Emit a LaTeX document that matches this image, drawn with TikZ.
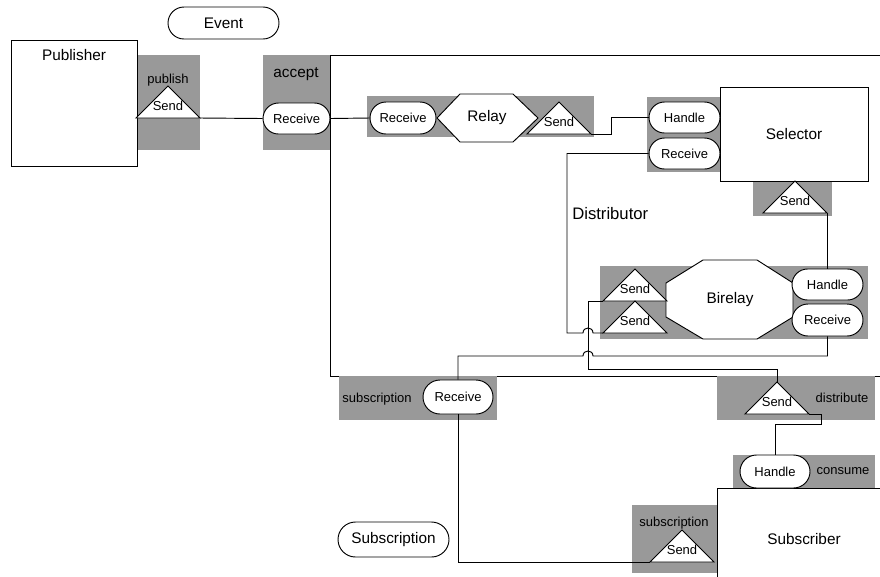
\documentclass[tikz,border=0pt]{standalone}
\usepackage{fontspec}
\setmainfont{Liberation Sans}
\usetikzlibrary{shapes.misc}
\definecolor{boxgray}{RGB}{153,153,153}
\begin{document}
\begin{tikzpicture}[x=0.75pt,y=-0.75pt,
  ln/.style={line width=0.7pt, draw=black},
  graybox/.style={fill=boxgray, draw=none},
  bigtxt/.style={inner sep=0pt, font=\fontsize{11.5}{13}\selectfont},
  smalltxt/.style={inner sep=0pt, font=\fontsize{9.75}{11}\selectfont},
  disttxt/.style={inner sep=0pt, font=\fontsize{12.5}{14}\selectfont},
  pw/.style={minimum width=#1*0.75pt},
  ph/.style={minimum height=#1*0.75pt},
  pill/.style={rounded rectangle, draw, line width=0.7pt, fill=white, inner sep=0pt},
  boxnode/.style={rectangle, draw, line width=0.7pt, fill=white, inner sep=0pt},
  sendtri/.pic={
    \draw[ln, fill=white] (-32,0) coordinate (-l) -- (0,-32) coordinate (-t) -- (32,0) coordinate (-r) -- cycle;
    \node[smalltxt] (-txt) at (0,-12) {Send};
  }]
\useasboundingbox (0,0) rectangle (880,576);
\clip (0,0) rectangle (880,576);

% distributor outline
\draw[ln] (900,55) -- (330,55) -- (330,376) -- (900,376);
% subscriber outline
\draw[ln] (717,600) -- (717,488) -- (900,488);

% gray boxes
\fill[boxgray] (137,55) rectangle (200,150);
\fill[boxgray] (263,55) rectangle (330,150);
\fill[boxgray] (367,96) rectangle (594,137);
\fill[boxgray] (647,97) rectangle (720,172);
\fill[boxgray] (753,181) rectangle (832,216);
\fill[boxgray] (600,266) rectangle (868,339);
\fill[boxgray] (339,376) rectangle (497,420);
\fill[boxgray] (717,376) rectangle (875,420);
\fill[boxgray] (733,455) rectangle (875,488);
\fill[boxgray] (632,505) rectangle (717,573);

% main boxes
\node[boxnode, pw=126, ph=126] (pub) at (74,103) {};
\node[bigtxt] (lpub) at (74,55) {Publisher};
\node[boxnode, pw=148, ph=94, bigtxt] (sel) at (794,134) {Selector};
\node[bigtxt] (lsubscriber) at (804,539) {Subscriber};

% relay hexagon
\draw[ln, fill=white] (437,118) -- (460,94) -- (513,94) -- (538,118) -- (513,142) -- (460,142) -- cycle;
\node[bigtxt] (relay) at (487,118) {Relay};

% birelay octagon
\draw[ln, fill=white] (666,283) -- (703,260) -- (757,260) -- (793,283) -- (793,317) -- (757,339) -- (703,339) -- (666,317) -- cycle;
\node[bigtxt] (birelay) at (730,300) {Birelay};

% pills
\node[pill, pw=111, ph=32, bigtxt] (event) at (223.5,23) {Event};
\node[pill, pw=67, ph=31, smalltxt] (accRecv) at (296.5,118.5) {Receive};
\node[pill, pw=66, ph=32, smalltxt] (relRecv) at (403,118) {Receive};
\node[pill, pw=71, ph=31, smalltxt] (selHandle) at (684.5,117.5) {Handle};
\node[pill, pw=71, ph=31, smalltxt] (selRecv) at (684.5,153.5) {Receive};
\node[pill, pw=71, ph=31, smalltxt] (biHandle) at (827.5,284.5) {Handle};
\node[pill, pw=71, ph=32, smalltxt] (biRecv) at (827.5,320) {Receive};
\node[pill, pw=70, ph=34, smalltxt] (subRecv) at (458,397) {Receive};
\node[pill, pw=70, ph=33, smalltxt] (consHandle) at (775,471.5) {Handle};
\node[pill, pw=111, ph=35, bigtxt] (subscr) at (393.5,539.5) {Subscription};

% send triangles
\pic (ps) at (168,118) {sendtri};
\pic (rs) at (559,134) {sendtri};
\pic (ss) at (795,213) {sendtri};
\pic (bs1) at (635,301) {sendtri};
\pic (bs2) at (635,333) {sendtri};
\pic (ds) at (777,414) {sendtri};
\pic (sbs) at (682,562) {sendtri};

% labels
\node[smalltxt] (lpublish) at (168,80) {publish};
\node[bigtxt] (laccept) at (296,74) {accept};
\node[smalltxt] (lsubscr1) at (377,399) {subscription};
\node[smalltxt] (ldistr) at (842,398) {distribute};
\node[smalltxt] (lconsume) at (843,471) {consume};
\node[smalltxt] (lsubscr2) at (674,523) {subscription};
\node[disttxt, anchor=west] (ldist) at (572,214) {Distributor};

% connectors
\draw[ln] (ps-r) -- (accRecv.west);
\draw[ln] (accRecv.east) -- (relRecv.west);
\draw[ln] (rs-r) -- ++(20,0) |- (selHandle.west);
\draw[ln] (bs2-l) -- (593,333) .. controls (593,326.3) and (583,326.3) .. (583,333) -- (567,333) |- (selRecv.west);
\draw[ln] (bs1-l) -| (588,369) -| (ds-t);
\draw[ln] (ss-r) -- (ss-r |- biHandle.north);
\draw[ln] (biRecv.south) |- (593,356) .. controls (593,349.3) and (583,349.3) .. (583,356) -| (subRecv.north);
\draw[ln] (ds-r) -- ++(12,0) -- ++(0,10) -| (consHandle.north);
\draw[ln] (subRecv.south) |- (sbs-l);
\end{tikzpicture}
\end{document}
